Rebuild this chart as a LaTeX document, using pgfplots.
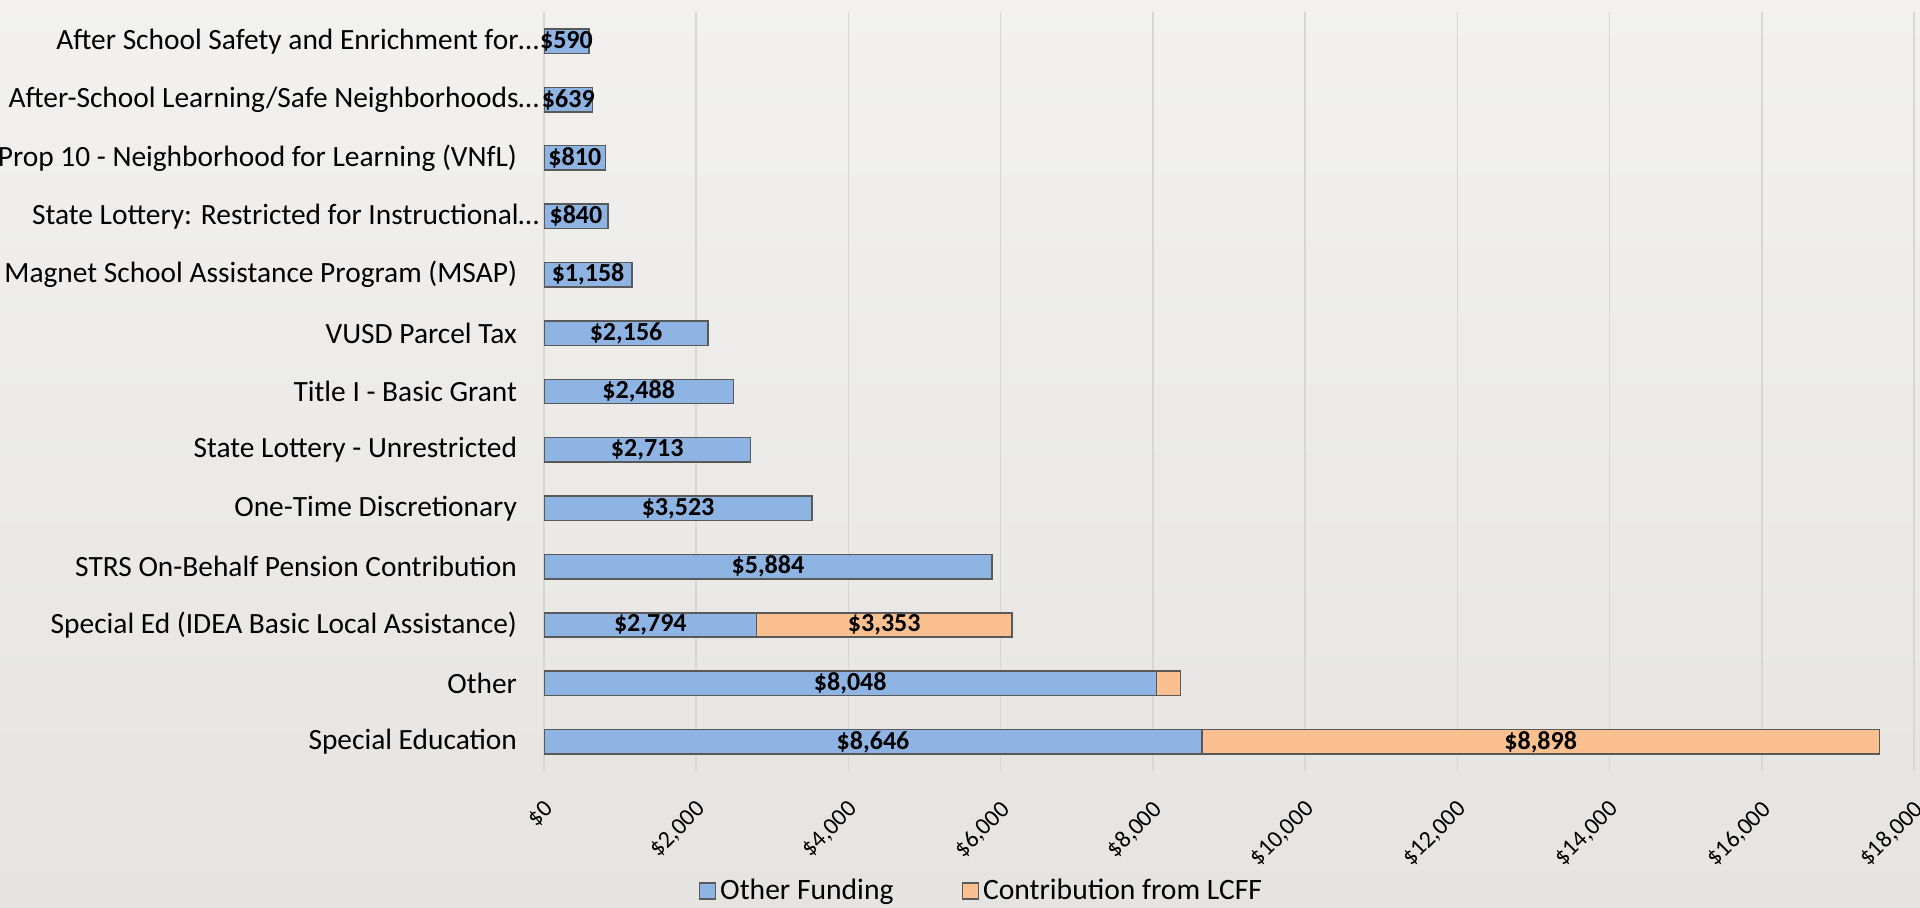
\documentclass[border=0pt]{standalone}
\usepackage{pgfplots}
\pgfplotsset{compat=1.18}
\usepackage{fontspec}
\setmainfont{Carlito}
\definecolor{bg}{HTML}{ECEBE8}
\definecolor{blueF}{HTML}{8DB4E2}
\definecolor{orangeF}{HTML}{FAC090}
\definecolor{edge}{HTML}{595959}
\definecolor{gridc}{HTML}{D6D6D4}
\begin{document}
\begin{tikzpicture}
\shade[top color=bg!70!white, bottom color=bg!97!black] (0,0) rectangle (960pt,454pt);
\useasboundingbox (0,0) rectangle (960pt,454pt);
\pgfplotsset{base/.style={scale only axis, width=685pt, height=379.5pt,
  at={(272pt,68.5pt)}, anchor=south west,
  xmin=0, xmax=18000, ymin=-0.5, ymax=12.5}}
\begin{axis}[base, xbar stacked, bar width=12.2pt,
  axis line style={draw=none}, major tick length=0pt,
  scaled x ticks=false,
  xmajorgrids, grid style={gridc, line width=0.75pt},
  xtick={0,2000,...,18000},
  xticklabels={{\$0},{\$2,000},{\$4,000},{\$6,000},{\$8,000},{\$10,000},{\$12,000},{\$14,000},{\$16,000},{\$18,000}},
  xticklabel style={rotate=45, anchor=north east, font=\fontsize{12}{14}\selectfont, yshift=-6pt, xshift=-7pt},
  ytick={0,...,12},
  yticklabels={
    {Special Education},
    {Other},
    {Special Ed (IDEA Basic Local Assistance)},
    {STRS On-Behalf Pension Contribution},
    {One-Time Discretionary},
    {State Lottery - Unrestricted},
    {Title I - Basic Grant},
    {VUSD Parcel Tax},
    {Magnet School Assistance Program (MSAP)},
    {State Lottery: Restricted for Instructional…\hspace*{-11pt}},
    {Prop 10 - Neighborhood for Learning (VNfL)},
    {After-School Learning/Safe Neighborhoods…\hspace*{-11pt}},
    {After School Safety and Enrichment for…\hspace*{-11pt}}},
  yticklabel style={font=\fontsize{14.7}{17}\selectfont, xshift=-10pt},
  legend style={at={(0.32,-0.158)}, anchor=center, legend columns=2,
    draw=none, fill=none, font=\fontsize{14.8}{17}\selectfont,
    /tikz/every even column/.append style={column sep=32pt}},
  legend image code/.code={\draw[#1] (0pt,-4pt) rectangle (8pt,4pt);},
]
\addplot[fill=blueF, draw=edge, line width=0.75pt] coordinates {
(8646,0) (8048,1) (2794,2) (5884,3) (3523,4) (2713,5) (2488,6) (2156,7)
(1158,8) (840,9) (810,10) (639,11) (590,12)};
\addlegendentry{Other Funding}
\addplot[fill=orangeF, draw=edge, line width=0.75pt] coordinates {
(8898,0) (316,1) (3353,2) (0,3) (0,4) (0,5) (0,6) (0,7)
(0,8) (0,9) (0,10) (0,11) (0,12)};
\addlegendentry{Contribution from LCFF}
\end{axis}
\begin{axis}[base, hide axis]
\addplot[only marks, mark=none, nodes near coords, point meta=explicit symbolic,
  nodes near coords style={anchor=center, font=\bfseries\fontsize{13}{15}\selectfont}]
coordinates {
(4323,0) [\$8,646]
(13095,0) [\$8,898]
(4024,1) [\$8,048]
(1397,2) [\$2,794]
(4470.5,2) [\$3,353]
(2942,3) [\$5,884]
(1761.5,4) [\$3,523]
(1356.5,5) [\$2,713]
(1244,6) [\$2,488]
(1078,7) [\$2,156]
(579,8) [\$1,158]
(420,9) [\$840]
(405,10) [\$810]
(319.5,11) [\$639]
(295,12) [\$590]
};
\end{axis}
\end{tikzpicture}
\end{document}
